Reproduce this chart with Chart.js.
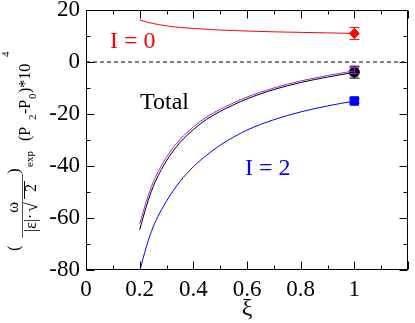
<!DOCTYPE html>
<html>
<head>
<meta charset="utf-8">
<script src="https://cdn.jsdelivr.net/npm/chart.js@4.4.1/dist/chart.umd.min.js"></script>
<style>
  html, body { margin: 0; padding: 0; background: #fff; }
  #wrap { width: 415px; height: 323px; }
</style>
</head>
<body>
<div id="wrap"><canvas id="c" width="415" height="323"></canvas></div>
<script>
// xi values where the curves are sampled
const xi = [0.2, 0.225, 0.25, 0.3, 0.35, 0.4, 0.45, 0.5, 0.6, 0.7, 0.8, 0.9, 1.0];
const curveI0 = [16.2, 15.4, 14.8, 13.9, 13.3, 12.9, 12.6, 12.3, 11.9, 11.6, 11.4, 11.2, 11.0];
const curveTotal = [-64.5, -55.5, -48.0, -38.0, -31.0, -26.0, -22.0, -19.0, -14.2, -10.6, -7.9, -5.8, -4.0];
const curveTotalB = [-62.3, -53.6, -46.3, -36.6, -29.8, -25.0, -21.1, -18.2, -13.5, -10.0, -7.3, -5.2, -3.4];
const curveI2 = [-80.5, -71.0, -63.5, -53.5, -46.0, -40.3, -35.8, -32.0, -26.2, -22.2, -19.2, -16.9, -15.0];

// experimental points at xi = 1
const ptX = [1.0];
const ptI0 = [11.0], errI0 = [2.3];
const ptTotal = [-3.9], errTotal = [2.3];
const ptTotalB = [-3.3], errTotalB = [1.2];
const ptI2 = [-15.0], errI2 = [0.8];

const yTicks = [20, 0, -20, -40, -60, -80];
const xTicks = [0, 0.2, 0.4, 0.6, 0.8, 1];

const serif = '"Liberation Serif", "DejaVu Serif", serif';

function pts(xs, ys) { return xs.map((x, i) => ({ x: x, y: ys[i] })); }

function lineSet(ys, color) {
  return { type: 'line', data: pts(xi, ys), borderColor: color, borderWidth: 1,
    pointRadius: 0, cubicInterpolationMode: 'monotone', fill: false };
}
function markSet(ys, err, color, style, r, rot) {
  return { type: 'scatter', data: pts(ptX, ys), err: err, backgroundColor: color,
    borderColor: color, borderWidth: 1, pointStyle: style, pointRadius: r, rotation: rot || 0 };
}

const frame = {
  id: 'frame',
  afterDatasetsDraw(chart) {
    const ctx = chart.ctx, a = chart.chartArea;
    const xs = chart.scales.x, ys = chart.scales.y;
    ctx.save();
    // error bars
    chart.data.datasets.forEach((ds, i) => {
      if (!ds.err) return;
      ds.data.forEach((p, j) => {
        const px = Math.round(xs.getPixelForValue(p.x)) + 0.5;
        const y1 = ys.getPixelForValue(p.y + ds.err[j]);
        const y2 = ys.getPixelForValue(p.y - ds.err[j]);
        ctx.strokeStyle = ds.borderColor; ctx.lineWidth = 1;
        ctx.beginPath();
        ctx.moveTo(px, y1); ctx.lineTo(px, y2);
        ctx.moveTo(px - 5, y1); ctx.lineTo(px + 5, y1);
        ctx.moveTo(px - 5, y2); ctx.lineTo(px + 5, y2);
        ctx.stroke();
      });
    });
    // box and inward ticks
    ctx.strokeStyle = '#000'; ctx.lineWidth = 1;
    const L = a.left + 0.5, R = a.right - 0.5, T = a.top + 0.5, B = a.bottom - 0.5;
    ctx.strokeRect(L, T, R - L, B - T);
    ctx.beginPath();
    for (let v = -80; v <= 20; v += 10) {
      const py = Math.round(ys.getPixelForValue(v)) + 0.5;
      const len = v % 20 === 0 ? 8 : 4;
      ctx.moveTo(L, py); ctx.lineTo(L + len, py);
      ctx.moveTo(R, py); ctx.lineTo(R - len, py);
    }
    for (let k = 0; k <= 12; k++) {
      const px = Math.round(xs.getPixelForValue(k / 10)) + 0.5;
      const len = k % 2 === 0 ? 8 : 4;
      ctx.moveTo(px, B); ctx.lineTo(px, B - len);
      ctx.moveTo(px, T); ctx.lineTo(px, T + len);
    }
    ctx.stroke();
    // annotations
    ctx.font = '24px ' + serif;
    ctx.textBaseline = 'alphabetic'; ctx.textAlign = 'left';
    ctx.fillStyle = '#ff0000'; ctx.fillText('I = 0', 110, 48);
    ctx.fillStyle = '#000000'; ctx.fillText('Total', 140, 109);
    ctx.fillStyle = '#0000ff'; ctx.fillText('I = 2', 245, 175);
    // rotated y-axis title
    const pieces = [
      ['(', 17, 19, 251], ['\u03c9', 17, 18, 213], ['|\u03b5|\u00b7', 16, 36, 232], ['\u221a', 18, 37, 212],
      ['2', 16, 36, 192],
      [')', 17, 19, 174], ['exp', 11, 33, 167],
      ['(P', 16, 30, 141], ['2', 11, 36, 120], ['-P', 16, 30, 114], ['0', 11, 36, 99],
      [')*10', 16, 30, 93], ['4', 11, 9, 57]
    ];
    ctx.fillStyle = '#000';
    pieces.forEach(p => {
      ctx.save();
      ctx.translate(p[2], p[3]);
      ctx.rotate(-Math.PI / 2);
      ctx.font = p[1] + 'px ' + serif;
      ctx.fillText(p[0], 0, 0);
      ctx.restore();
    });
    ctx.strokeStyle = '#000';
    ctx.beginPath(); ctx.moveTo(24.5, 199); ctx.lineTo(24.5, 181); ctx.stroke();
    ctx.strokeStyle = '#555';
    ctx.beginPath(); ctx.moveTo(22.5, 238); ctx.lineTo(22.5, 174); ctx.stroke();
    ctx.restore();
  }
};

function noPad(s) { s.paddingTop = 0; s.paddingBottom = 0; s.paddingLeft = 0; s.paddingRight = 0; }

new Chart(document.getElementById('c'), {
  data: {
    datasets: [
      Object.assign(lineSet([0, 0], '#000'), { data: [{ x: 0, y: 0 }, { x: 1.2, y: 0 }], borderDash: [4, 3], cubicInterpolationMode: 'default' }),
      lineSet(curveI0, '#ff0000'),
      lineSet(curveTotalB, '#a020f0'),
      lineSet(curveTotal, '#000000'),
      lineSet(curveI2, '#0000ff'),
      markSet(ptI0, errI0, '#ff0000', 'rectRot', 5),
      markSet(ptTotal, errTotal, '#000000', 'circle', 5),
      markSet(ptTotalB, errTotalB, '#a020f0', 'triangle', 4, 180),
      markSet(ptI2, errI2, '#0000ff', 'rect', 6)
    ]
  },
  options: {
    responsive: false,
    animation: false,
    layout: { padding: { top: 10, right: 2, left: 0, bottom: 0 } },
    plugins: { legend: { display: false }, tooltip: { enabled: false } },
    scales: {
      x: {
        type: 'linear', min: 0, max: 1.2,
        afterFit: s => { s.height = 53; noPad(s); },
        afterBuildTicks: s => { s.ticks = xTicks.map(v => ({ value: v })); },
        grid: { display: false, drawTicks: false },
        border: { display: false },
        ticks: { color: '#000', padding: 6, maxRotation: 0, font: { family: serif, size: 23 },
          callback: v => String(Math.round(v * 10) / 10) },
        title: { display: true, text: '\u03be', color: '#000', font: { family: serif, size: 24 }, padding: { top: 4, bottom: 0 } }
      },
      y: {
        type: 'linear', min: -80, max: 20,
        afterFit: s => { s.width = 86; noPad(s); },
        afterBuildTicks: s => { s.ticks = yTicks.map(v => ({ value: v })); },
        grid: { display: false, drawTicks: false },
        border: { display: false },
        ticks: { color: '#000', padding: 6, font: { family: serif, size: 23 } }
      }
    }
  },
  plugins: [frame]
});
</script>
</body>
</html>
